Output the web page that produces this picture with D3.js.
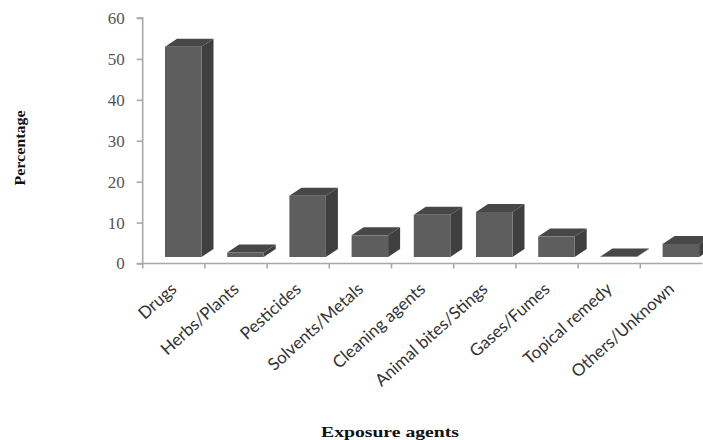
<!DOCTYPE html>
<html>
<head>
<meta charset="utf-8">
<script src="https://cdn.jsdelivr.net/npm/d3@7/dist/d3.min.js"></script>
<style>
html,body{margin:0;padding:0;background:#fff;}
svg{display:block;}
</style>
</head>
<body>
<svg id="chart" width="703" height="440"></svg>
<script>
const categories = ["Drugs","Herbs/Plants","Pesticides","Solvents/Metals","Cleaning agents","Animal bites/Stings","Gases/Fumes","Topical remedy","Others/Unknown"];
const percentages = [51.4,1.1,15,5.3,10.3,11,5,0.1,3.2];
const yTicks = [0,10,20,30,40,50,60];

const svg = d3.select("#chart");
const axisColor = "#a8a8a8";

const x = d3.scaleBand().domain(categories).range([142.7,702.5]);
const y = d3.scaleLinear().domain([0,60]).range([263.5,18]);

// 3D box proportions: front face inset, depth offset and floor lift
const inset = 22.3, frontW = 36.5, depthX = 12, depthY = 8, floor = 6.5;

const bars = svg.append("g").selectAll("g").data(categories).join("g");
categories.forEach((c,i)=>{
  const g = d3.select(bars.nodes()[i]);
  const x0 = x(c)+inset, x1 = x0+frontW;
  const yb = y(0)-floor;
  const yt = yb-(y(0)-y(percentages[i]));
  // top face
  g.append("path")
    .attr("d",d3.line()([[x0,yt],[x0+depthX,yt-depthY],[x1+depthX,yt-depthY],[x1,yt]])+"Z")
    .attr("fill","#474747");
  // side face
  g.append("path")
    .attr("d",d3.line()([[x1,yt],[x1+depthX,yt-depthY],[x1+depthX,yb-depthY],[x1,yb]])+"Z")
    .attr("fill","#3f3f3f");
  // front face
  g.append("rect")
    .attr("x",x0).attr("y",yt)
    .attr("width",frontW).attr("height",yb-yt)
    .attr("fill","#5e5e5e");
});

// Value axis
const yAxis = svg.append("g")
  .attr("transform","translate(142.7,0)")
  .call(d3.axisLeft(y).tickValues(yTicks).tickSize(6).tickPadding(12));
yAxis.selectAll("path,line").attr("stroke",axisColor).attr("stroke-width",1.6);
yAxis.select("path").attr("d",`M-6,${y(60)}H0V${y(0)}H-6`);
yAxis.selectAll("text")
  .attr("font-family","'Liberation Serif',serif")
  .attr("font-size",17).attr("fill","#555");

// Category axis: ticks sit on the band edges
const base = svg.append("g");
base.append("line")
  .attr("x1",142.7).attr("x2",702.5).attr("y1",y(0)).attr("y2",y(0))
  .attr("stroke",axisColor).attr("stroke-width",1.6);
base.selectAll("line.t").data(categories).join("line")
  .attr("class","t")
  .attr("x1",d=>x(d)).attr("x2",d=>x(d))
  .attr("y1",y(0)).attr("y2",y(0)+5)
  .attr("stroke",axisColor).attr("stroke-width",1.6);

svg.append("g").selectAll("text").data(categories).join("text")
  .attr("transform",d=>`translate(${x(d)+x.bandwidth()/2+4},${y(0)+27}) rotate(-42)`)
  .attr("text-anchor","end")
  .attr("font-family","Lato,sans-serif")
  .attr("font-size",17).attr("fill","#333")
  .text(d=>d);

// Axis titles
svg.append("text")
  .attr("transform","translate(25,148) rotate(-90)")
  .attr("text-anchor","middle")
  .attr("font-family","'Liberation Serif',serif")
  .attr("font-weight","bold").attr("font-size",15).attr("fill","#111")
  .attr("textLength",75).attr("lengthAdjust","spacingAndGlyphs")
  .text("Percentage");
svg.append("text")
  .attr("x",390).attr("y",437)
  .attr("text-anchor","middle")
  .attr("font-family","'Liberation Serif',serif")
  .attr("font-weight","bold").attr("font-size",15).attr("fill","#111")
  .attr("textLength",138).attr("lengthAdjust","spacingAndGlyphs")
  .text("Exposure agents");
</script>
</body>
</html>
